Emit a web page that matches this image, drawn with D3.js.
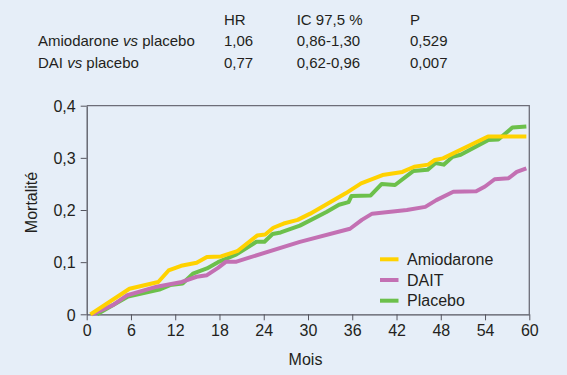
<!DOCTYPE html>
<html>
<head>
<meta charset="utf-8">
<script src="https://cdn.jsdelivr.net/npm/d3@7"></script>
<style>
  body { margin: 0; background: #e6eef8; }
  svg { display: block; font-family: "Liberation Sans", Arial, sans-serif; }
</style>
</head>
<body>
<svg id="chart" width="567" height="375"></svg>
<script>

// header table
var tableHead = ["HR", "IC 97,5 %", "P"];
var tableRows = ["Amiodarone vs placebo", "DAI vs placebo"];
var tableHR = ["1,06", "0,77"];
var tableIC = ["0,86-1,30", "0,62-0,96"];
var tableP = ["0,529", "0,007"];

// curves [month, mortality]
var amiodarone = [[0.5,0],[5.8,0.049],[9.7,0.062],[11.1,0.084],[12.8,0.093],[14.9,0.099],[16.3,0.110],
  [18.2,0.111],[20.4,0.121],[23.1,0.151],[24.2,0.153],[25.3,0.166],[26.7,0.174],[28.6,0.181],[30.3,0.193],
  [35.1,0.232],[37.2,0.251],[40.1,0.267],[42.8,0.273],[44.4,0.283],[46.3,0.287],[47.2,0.296],[48.3,0.299],
  [54.4,0.341],[59.6,0.341]];
var dait = [[0.7,0],[3.6,0.018],[5.4,0.036],[9.5,0.053],[12.9,0.062],[14.9,0.072],[16.3,0.075],[17.8,0.089],
  [18.9,0.101],[20.3,0.101],[28.9,0.139],[35.7,0.164],[37.3,0.181],[38.7,0.193],[43.4,0.200],[45.9,0.206],
  [47.4,0.219],[49.7,0.235],[52.8,0.236],[54,0.245],[55.3,0.259],[57.2,0.261],[58.3,0.273],[59.6,0.280]];
var placebo = [[1.4,0],[5.6,0.034],[10,0.048],[11.3,0.056],[13,0.059],[14.4,0.078],[16.3,0.088],[17.8,0.100],
  [20.3,0.115],[23,0.139],[24.1,0.139],[25.2,0.154],[26.3,0.157],[28.9,0.170],[32.5,0.196],[34.2,0.210],
  [35.5,0.215],[35.9,0.227],[38.5,0.228],[40,0.250],[41.8,0.248],[44.3,0.275],[46.2,0.277],[47.3,0.290],
  [48.4,0.287],[49.6,0.302],[50.7,0.306],[54.4,0.334],[55.8,0.335],[57.7,0.358],[59.6,0.360]];

var seriesNames = ["Amiodarone", "DAIT", "Placebo"];
var seriesColors = ["#ffd200", "#c370b3", "#6cc04b"];
var xTicks = [0, 6, 12, 18, 24, 30, 36, 42, 48, 54, 60];
var yTicks = [0, 0.1, 0.2, 0.3, 0.4];

var svg = d3.select("#chart");
svg.margin = {left: 86.7, right: 567 - 529.3, top: 105.7, bottom: 375 - 314.3};
svg.width = 567 - svg.margin.left - svg.margin.right;
svg.height = 375 - svg.margin.top - svg.margin.bottom;

var fmt = function (d) { return d === 0 ? "0" : d3.format(".1f")(d).replace(".", ","); };

/************************************************************************************************************/
// table on top

var table = svg.append("g").style("font-size", "15px").attr("fill", "#231f20");
var colX = [224, 296.7, 410];
tableHead.forEach(function (t, i) {
  table.append("text").attr("x", colX[i]).attr("y", 25).text(t);
});
var rowY = [46, 68.3];
tableRows.forEach(function (t, i) {
  var parts = t.split(" vs ");
  var txt = table.append("text").attr("x", 38).attr("y", rowY[i]);
  txt.append("tspan").text(parts[0] + " ");
  txt.append("tspan").style("font-style", "italic").text("vs");
  txt.append("tspan").text(" " + parts[1]);
  table.append("text").attr("x", colX[0]).attr("y", rowY[i]).text(tableHR[i]);
  table.append("text").attr("x", colX[1]).attr("y", rowY[i]).text(tableIC[i]);
  table.append("text").attr("x", colX[2]).attr("y", rowY[i]).text(tableP[i]);
});

/************************************************************************************************************/
// scales, axes

svg.x = d3.scaleLinear().domain([0, 60]).range([0, svg.width]);
svg.y = d3.scaleLinear().domain([0, 0.4]).range([svg.height, 0]);

svg.chart = svg.append("g").attr("transform", "translate(" + [svg.margin.left, svg.margin.top] + ")");

// frame top/right
svg.chart.append("path")
  .attr("d", "M0,0H" + svg.width + "V" + svg.height)
  .attr("fill", "none").attr("stroke", "#6d6d78").attr("stroke-width", 1.3);

svg.axisx = svg.chart.append("g").attr("transform", "translate(0," + svg.height + ")")
  .call(d3.axisBottom(svg.x).tickValues(xTicks).tickSize(6).tickPadding(4).tickSizeOuter(0));
svg.axisy = svg.chart.append("g")
  .call(d3.axisLeft(svg.y).tickValues(yTicks).tickFormat(fmt).tickSize(6).tickPadding(5).tickSizeOuter(0));

[svg.axisx, svg.axisy].forEach(function (a) {
  a.attr("font-family", null).attr("font-size", null);
  a.selectAll("text").style("font-size", "16px").attr("fill", "#231f20");
  a.selectAll("line").attr("stroke", "#55555f");
  a.select(".domain").attr("stroke", "#55555f").attr("stroke-width", 1.3);
});
svg.axisy.selectAll("text").attr("dy", "0.36em");

svg.append("text").attr("x", 305.5).attr("y", 365).attr("text-anchor", "middle")
  .style("font-size", "16px").attr("fill", "#231f20").text("Mois");
svg.append("text").attr("transform", "translate(37,202.5) rotate(-90)").attr("text-anchor", "middle")
  .style("font-size", "16px").attr("fill", "#231f20").text("Mortalité");

/************************************************************************************************************/
// curves

svg.valueline = d3.line()
  .x(function (d) { return svg.x(d[0]); })
  .y(function (d) { return svg.y(d[1]); });

var allData = [amiodarone, dait, placebo];
[2, 1, 0].forEach(function (i) {
  svg.chart.append("path")
    .attr("d", svg.valueline(allData[i]))
    .attr("fill", "none")
    .attr("stroke", seriesColors[i])
    .attr("stroke-width", 4)
    .attr("stroke-linejoin", "round");
});

// legend
var legend = svg.append("g").attr("transform", "translate(380,259.3)");
seriesNames.forEach(function (name, i) {
  var gy = i * 20.7;
  legend.append("line").attr("x1", 0).attr("x2", 18.5).attr("y1", gy).attr("y2", gy)
    .attr("stroke", seriesColors[i]).attr("stroke-width", 4);
  legend.append("text").attr("x", 27).attr("y", gy).attr("dy", "0.36em")
    .style("font-size", "16px").attr("fill", "#231f20").text(name);
});

</script>
</body>
</html>
